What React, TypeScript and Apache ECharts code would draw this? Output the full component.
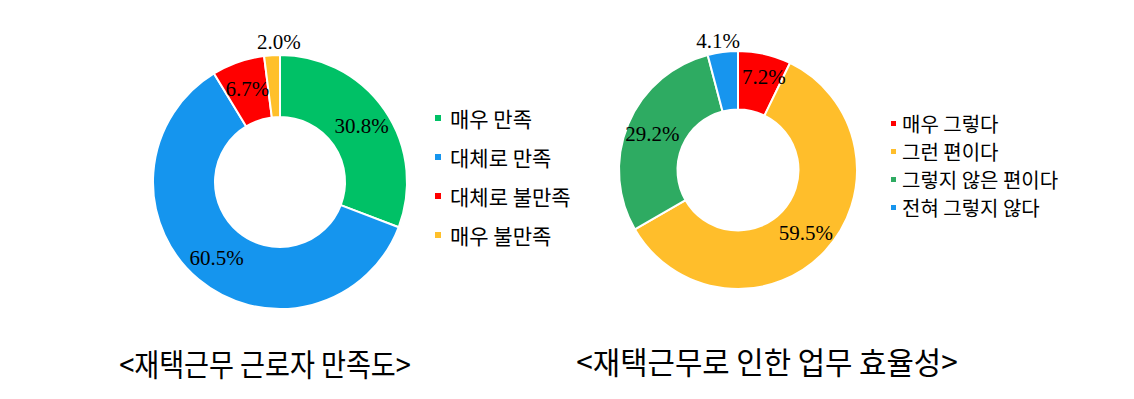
import React, { useEffect, useRef } from "react";
import * as echarts from "echarts";

const satCategories = ["매우 만족", "대체로 만족", "대체로 불만족", "매우 불만족"];
const satValues = [30.8, 60.5, 6.7, 2.0];
const satColors = ["#00C166", "#1595EE", "#FF0000", "#FFC02A"];

const effCategories = ["매우 그렇다", "그런 편이다", "그렇지 않은 편이다", "전혀 그렇지 않다"];
const effValues = [7.2, 59.5, 29.2, 4.1];
const effColors = ["#FF0000", "#FFBE2B", "#2EAB62", "#1795EE"];

const titles = ["<재택근무 근로자 만족도>", "<재택근무로 인한 업무 효율성>"];

const CJK = "'Noto Sans CJK KR', 'Noto Sans', sans-serif";
const SERIF = "'Liberation Serif', 'DejaVu Serif', serif";

export default function App() {
  const ref = useRef<HTMLDivElement>(null);
  useEffect(() => {
    if (!ref.current) return;
    const chart = echarts.init(ref.current, null, { renderer: "svg" });
    const mk = (names: string[], vals: number[], colors: string[]) =>
      names.map((n, i) => ({ name: n, value: vals[i], itemStyle: { color: colors[i] } }));
    const labelCfg = {
      show: true,
      position: "inside",
      color: "#000",
      fontFamily: SERIF,
      fontSize: 21,
      textBorderWidth: 0,
      formatter: (p: any) => Number(p.value).toFixed(1) + "%",
    };
    chart.setOption({
      animation: false,
      backgroundColor: "#fff",
      legend: [
        {
          orient: "vertical",
          left: 428,
          top: 102,
          itemWidth: 8,
          itemHeight: 8,
          itemGap: 17,
          icon: "rect",
          data: satCategories,
          textStyle: { fontFamily: CJK, fontSize: 21, color: "#000", lineHeight: 22, padding: [0, 0, 0, 3] },
        },
        {
          orient: "vertical",
          left: 884,
          top: 108,
          itemWidth: 7,
          itemHeight: 7,
          itemGap: 7,
          icon: "rect",
          data: effCategories,
          textStyle: { fontFamily: CJK, fontSize: 20, color: "#000", lineHeight: 21 },
        },
      ],
      series: [
        {
          type: "pie",
          center: [280, 182],
          radius: [65, 127],
          startAngle: 90,
          clockwise: true,
          itemStyle: { borderColor: "#fff", borderWidth: 2 },
          label: labelCfg,
          labelLine: { show: false },
          labelLayout: (p: any) => (p.dataIndex === 3 ? { dx: 5, dy: -41 } : {}),
          emphasis: { disabled: true },
          data: mk(satCategories, satValues, satColors),
        },
        {
          type: "pie",
          center: [738, 170],
          radius: [60.5, 119],
          startAngle: 90,
          clockwise: true,
          itemStyle: { borderColor: "#fff", borderWidth: 2 },
          label: labelCfg,
          labelLine: { show: false },
          labelLayout: (p: any) =>
            p.dataIndex === 3 ? { dx: -8, dy: -37 } : p.dataIndex === 0 ? { dx: 5, dy: -3 } : {},
          emphasis: { disabled: true },
          data: mk(effCategories, effValues, effColors),
        },
      ],
      graphic: [
        {
          type: "text",
          x: 265,
          y: 362,
          scaleX: 0.875,
          style: {
            text: titles[0],
            fontFamily: CJK,
            fontSize: 31,
            fill: "#000",
            align: "center",
            verticalAlign: "middle",
          },
        },
        {
          type: "text",
          x: 767,
          y: 361,
          scaleX: 0.96,
          style: {
            text: titles[1],
            fontFamily: CJK,
            fontSize: 31,
            fill: "#000",
            align: "center",
            verticalAlign: "middle",
          },
        },
      ],
    });
    return () => chart.dispose();
  }, []);
  return (
    <div
      ref={ref}
      style={{ position: "absolute", left: 0, top: 0, width: 1134, height: 399 }}
    />
  );
}
